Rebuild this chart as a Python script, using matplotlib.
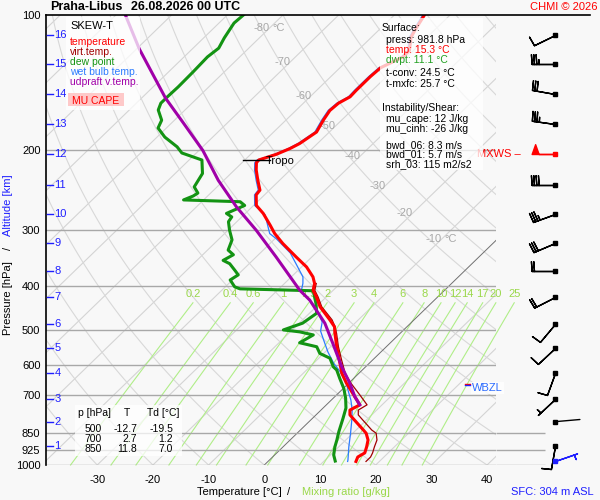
import numpy as np
import matplotlib
matplotlib.use('Agg')
import matplotlib.pyplot as plt
from matplotlib.patches import Rectangle
from matplotlib.lines import Line2D
from matplotlib.ticker import NullLocator, NullFormatter

plt.rcParams['font.family'] = ['Liberation Sans', 'DejaVu Sans']

# ---- data ----
station = 'Praha-Libus'
run_time = '26.08.2026 00 UTC'

# temperature [hPa], [degC]
t_p = [982, 960, 940, 911, 880, 850, 836, 795, 774, 755, 735, 699, 658, 625,
       584, 546, 510, 493, 476, 445, 423, 409, 395, 382, 363, 345, 322, 306,
       293, 276, 265, 251, 245, 233, 221, 213, 210, 204, 198, 193, 182, 171,
       163, 157, 152, 147, 137, 131, 124, 120, 112, 108, 100]
t_T = [15.8, 15.3, 15.8, 15.0, 14.0, 12.4, 11.3, 7.9, 6.1, 5.2, 6.0, 3.1, -0.4, -3.1,
       -6.0, -8.9, -11.7, -13.0, -15.1, -19.3, -21.8, -23.6, -24.6, -26.1, -29.1, -32.8, -37.7, -41.0,
       -43.4, -46.8, -49.5, -51.5, -51.7, -53.9, -56.1, -57.4, -57.5, -55.4, -54.0, -53.2, -52.3, -53.3,
       -53.9, -53.7, -52.8, -52.9, -52.9, -52.7, -50.7, -50.7, -52.9, -53.5, -54.6]

# virtual temperature (lower part, above it follows the temperature)
tv_p = [982, 960, 940, 911, 880, 850, 836, 795, 774, 755, 735, 699, 658, 625,
        584, 546, 510, 493, 476, 445, 423, 409, 395]
tv_T = [17.6, 17.6, 17.2, 16.4, 15.6, 14.2, 12.8, 9.4, 7.6, 6.7, 7.3, 4.2, 0.4, -2.5,
        -5.6, -8.6, -11.4, -12.9, -14.7, -19.0, -21.5, -23.3, -24.3]

# dew point
td_p = [980, 950, 911, 880, 843, 788, 747, 710, 676, 642, 615, 605, 579, 565,
        546, 535, 514, 506, 501, 484, 460, 437, 410, 406, 402, 388, 378, 369,
        357, 351, 341, 333, 316, 301, 288, 281, 276, 265, 260, 257.6, 252.5, 248.7,
        241, 225, 210, 202.6, 196.3, 186.8, 178.3, 171.3, 162.6, 157, 152, 144.5,
        133.9, 123.9, 118.5, 112.4, 104.2, 100]
td_T = [12.0, 10.6, 9.3, 8.4, 7.2, 5.5, 4.1, 2.2, 0.1, -2.5, -4.6, -5.8, -8.0, -10.7,
        -12.5, -16.3, -15.3, -18.3, -21.6, -19.4, -18.7, -20.7, -23.5, -37.0, -38.3, -40.4, -39.9, -41.4,
        -43.5, -45.3, -44.5, -46.3, -47.5, -49.7, -51.5, -51.8, -53.4, -51.6, -53.1, -63.6, -62.6, -62.3,
        -64.1, -65.1, -67.7, -72.6, -74.6, -78.6, -81.5, -82.3, -84.8, -85.6, -85.6, -85.5,
        -85.6, -85.8, -85.4, -86.3, -87.3, -87.1]

# wet bulb temperature
tw_p = [982, 975, 911, 850, 795, 755, 717, 681, 664, 620, 594, 561, 533, 504,
        481, 445, 423, 409, 395, 382, 357, 338, 314, 306, 278, 265, 251, 245,
        233, 221, 213, 210, 204, 198, 193, 182, 171, 163, 157, 152, 147, 137,
        131, 124, 120, 112, 108, 100]
tw_T = [14.3, 14.1, 11.8, 9.6, 7.4, 5.6, 3.5, 1.1, 0.0, -3.7, -6.4, -9.5, -12.0, -14.7,
        -16.1, -20.2, -23.6, -25.7, -26.7, -27.9, -31.6, -34.6, -39.8, -41.9, -46.2, -49.8, -51.8, -52.0,
        -54.2, -56.4, -57.7, -57.8, -55.7, -54.3, -53.5, -52.6, -53.6, -54.2, -54.0, -53.1, -53.2, -53.2,
        -53.0, -51.0, -51.0, -53.2, -53.8, -54.9]

# MU parcel (updraft virtual temperature)
par_p = [735, 705, 658, 605, 537, 484, 430, 409, 345, 301, 267, 233, 200, 174, 153, 119, 100]
par_T = [6.0, 3.6, 0.2, -4.3, -10.2, -15.4, -22.4, -26.0, -36.4, -44.9, -52.8, -61.0, -69.3,
         -77.8, -85.7, -99.5, -108.3]

# altitude scale [km] and the pressure where it sits
km_lab = list(range(1, 17))
km_p = [906.0, 801.2, 713.6, 624.4, 549.7, 486.0, 423.2, 370.5, 321.1, 276.8,
        238.6, 203.6, 174.6, 149.8, 128.5, 110.5]

# wind at every km: direction [deg], speed
wind_dir = [190, 85, 227, 200, 227, 220, 243, 270, 247, 250, 270, 270, 278, 280, 270, 244]
wind_spd = [10, 3, 5, 10, 10, 10, 20, 20, 30, 35, 40, 50, 35, 30, 35, 10]
sfc_p, sfc_dir, sfc_spd = 981.8, 71, 5
mxws_km = 12

tropo_p, tropo_T = 210, -57.5
wbzl_p = 664

p_ticks = [100, 200, 300, 400, 500, 600, 700, 850, 925, 1000]
t_ticks = [-30, -20, -10, 0, 10, 20, 30, 40]
mr_vals = [0.2, 0.4, 0.6, 1, 1.5, 2, 3, 4, 6, 8, 10, 12, 14, 17, 20, 25]
iso_lab_T = [-80, -70, -60, -50, -40, -30, -20, -10]
iso_lab_p = [106.7, 127.3, 151.0, 176.4, 205.5, 239.8, 275.5, 315.0]

sfc_lines = ['press: 981.8 hPa', 'temp: 15.3 °C', 'dwpt: 11.1 °C', 't-conv: 24.5 °C', 't-mxfc: 25.7 °C']
ins_lines = ['mu_cape: 12 J/kg', 'mu_cinh: -26 J/kg', 'bwd_06: 8.3 m/s', 'bwd_01: 5.7 m/s', 'srh_03: 115 m2/s2']

tbl_p = [500, 700, 850]
tbl_T = [-12.7, 2.7, 11.8]
tbl_Td = [-19.5, 1.2, 7.0]

# ---- helpers ----
SKEW = 36.2


def skx(T, p):
    return np.asarray(T, dtype=float) + SKEW * np.log(1000.0 / np.asarray(p, dtype=float))


W, H = 600, 500


def fx(x):
    return x / W


def fy(y):
    return 1 - y / H


BG = '#f8f8f8'
BLUE = '#1f1fff'
fig = plt.figure(figsize=(6, 5), dpi=100, facecolor=BG)
ax = fig.add_axes([fx(46), fy(465), 450 / W, 450 / H])
ax.set_facecolor(BG)
ax.set_yscale('log')
ax.set_ylim(1000, 100)
ax.set_xlim(-39.2, 41.6)

# background lines
pl = np.geomspace(1000, 100, 80)
for T in range(-130, 50, 10):
    if T == 0:
        ax.plot(skx(T, pl), pl, color='#707070', lw=0.7, zorder=1.2)
    else:
        ax.plot(skx(T, pl), pl, color='#d4d4d4', lw=0.8, zorder=1)
for th in range(-40, 200, 10):
    Tad = (th + 273.15) * (pl / 1000.0) ** 0.286 - 273.15
    ax.plot(skx(Tad, pl), pl, color='#d8d8d8', lw=0.8, zorder=1)

pm = np.geomspace(1000, 436, 25)
for w in mr_vals:
    e = w * pm / (622.0 + w)
    lg = np.log(e / 6.112)
    Tdw = 243.5 * lg / (17.67 - lg)
    ax.plot(skx(Tdw, pm), pm, color='#b0ee88', lw=0.8, zorder=1.1, clip_on=False)
    ax.text(skx(Tdw[-1], pm[-1]), 417, f'{w:g}', color='#9ad84a', fontsize=8,
            ha='center', va='center', zorder=1.5, clip_on=False)

for p in p_ticks[1:]:
    ax.axhline(p, color='#a8a8a8', lw=1, zorder=1.3)

for T, p in zip(iso_lab_T, iso_lab_p):
    ax.text(skx(T, p), p, f'{T}', color='#a8a8a8', fontsize=8, ha='right', va='center', zorder=1.5)
    if T in (-80, -10):
        ax.annotate('°C', xy=(skx(T, p), p), xytext=(2, 0), textcoords='offset points',
                    color='#a8a8a8', fontsize=8, ha='left', va='center', zorder=1.5)

# profiles
ax.plot(skx(tv_T, tv_p), tv_p, color='#a00000', lw=0.9, zorder=3)
ax.plot(skx(tw_T, tw_p), tw_p, color='#2b7bff', lw=0.9, zorder=3.1)
ax.plot(skx(td_T, td_p), td_p, color='#139313', lw=2.2, zorder=3.2)
ax.plot(skx(t_T, t_p), t_p, color='#ff0000', lw=2.2, zorder=3.3)
ax.plot(skx(par_T, par_p), par_p, color='#a000a8', lw=2.2, zorder=3.4)

# tropopause
xt = skx(tropo_T, tropo_p)
ax.plot([xt - 2.8, xt + 2.0], [tropo_p, tropo_p], color='black', lw=1, zorder=4)
ax.annotate('Tropo', xy=(xt, tropo_p), xytext=(5, -1), textcoords='offset points',
            fontsize=8, ha='left', va='center', zorder=4)

# wet bulb zero
tr = ax.get_yaxis_transform()
ax.plot([0.931, 0.944], [wbzl_p * 0.995] * 2, color='red', lw=1, transform=tr, zorder=4)
ax.plot([0.931, 0.944], [wbzl_p * 1.002] * 2, color=BLUE, lw=1, transform=tr, zorder=4)
ax.annotate('WBZL', xy=(0.946, wbzl_p), xycoords=tr, xytext=(0, -2), textcoords='offset points',
            color='#2b6bff', fontsize=8, ha='left', va='center', zorder=4,
            bbox=dict(boxstyle='square,pad=0.1', fc='white', ec='none', alpha=0.8))

# altitude ticks
for k, p in zip(km_lab, km_p):
    ax.plot([0.002, 0.015], [p, p], color=BLUE, lw=1, transform=tr, zorder=5)
    ax.text(0.019, p, str(k), transform=tr, color=BLUE, fontsize=8, ha='left', va='center', zorder=5)

# axes cosmetics
for s in ['top', 'right', 'bottom']:
    ax.spines[s].set_visible(False)
ax.spines['left'].set_linewidth(1.2)
ax.set_yticks(p_ticks)
ax.set_yticklabels([str(p) for p in p_ticks])
ax.yaxis.set_minor_locator(NullLocator())
ax.yaxis.set_minor_formatter(NullFormatter())
ax.set_xticks(t_ticks)
ax.set_xticklabels([str(t) for t in t_ticks])
ax.tick_params(axis='y', length=0, pad=4, labelsize=8)
ax.tick_params(axis='x', length=0, pad=7, labelsize=8)

# wind column
axb = fig.add_axes([fx(496), fy(465), 104 / W, 450 / H], sharey=ax)
axb.set_xlim(0, 104)
axb.axis('off')
axb.hlines([850, 925, 1000], 0, 49, color='#a8a8a8', lw=1)
xb = 59
BL = 5.8
bsz = dict(spacing=0.1, height=0.42, width=0.06)
fsz = dict(spacing=0.1, height=0.42, width=0.3)
wdr = np.radians(wind_dir)
u = -np.array(wind_spd) * np.sin(wdr)
v = -np.array(wind_spd) * np.cos(wdr)
kp = np.array(km_p)
for i in range(len(km_p)):
    if km_lab[i] == 2:
        continue
    c = 'red' if km_lab[i] == mxws_km else 'black'
    axb.barbs([xb], [kp[i]], [u[i]], [v[i]], length=BL, color=c, lw=1, clip_on=False,
              sizes=fsz if wind_spd[i] >= 50 else bsz)
    axb.plot(xb, kp[i], 's', ms=2.3, color=c, clip_on=False)
# light wind at 2 km: staff only
i2 = km_lab.index(2)
axb.annotate('', xy=(xb, kp[i2]),
             xytext=(18 * np.sin(wdr[i2]), 18 * np.cos(wdr[i2])), textcoords='offset points',
             arrowprops=dict(arrowstyle='-', lw=1, color='black', shrinkA=0, shrinkB=0))
axb.plot(xb, kp[i2], 's', ms=2.3, color='black', clip_on=False)
sr = np.radians(sfc_dir)
axb.barbs([xb], [sfc_p], [-sfc_spd * np.sin(sr)], [-sfc_spd * np.cos(sr)], length=BL,
          color=BLUE, lw=1, clip_on=False, sizes=bsz)
axb.plot(xb, sfc_p, 's', ms=2.3, color=BLUE, clip_on=False)
axb.text(25, km_p[km_lab.index(mxws_km)], 'MXWS \u2013', color='red', fontsize=8,
         ha='right', va='center', clip_on=False)

# ---- frame texts ----
fig.add_artist(Line2D([fx(46), fx(590)], [fy(15), fy(15)], color='black', lw=1.2))
fig.text(fx(50), fy(7.5), station, fontsize=9, fontweight='bold', ha='left', va='center')
fig.text(fx(131), fy(7.5), run_time, fontsize=9, fontweight='bold', ha='left', va='center')
fig.text(fx(597), fy(7.5), 'CHMI © 2026', fontsize=8, color='red', ha='right', va='center')

fig.text(fx(8), fy(335), 'Pressure [hPa]', rotation=90, fontsize=8, ha='center', va='bottom')
fig.text(fx(8), fy(250), '/', rotation=90, fontsize=8, ha='center', va='bottom')
fig.text(fx(8), fy(236), 'Altitude [km]', rotation=90, fontsize=8, color=BLUE, ha='center', va='bottom')

fig.text(fx(197), fy(492), 'Temperature [°C]', fontsize=8, ha='left', va='center')
fig.text(fx(289), fy(492), '/', fontsize=8, ha='center', va='center')
fig.text(fx(302), fy(492), 'Mixing ratio [g/kg]', fontsize=8, color='#9ad84a', ha='left', va='center')
fig.text(fx(511), fy(492), 'SFC: 304 m ASL', fontsize=8, color=BLUE, ha='left', va='center')

# legend box
fig.add_artist(Rectangle((fx(66), fy(110)), 74 / W, 93 / H, transform=fig.transFigure,
                         fc='white', ec='none', alpha=0.75, zorder=2))
leg = [('SKEW-T', 'black', 26), ('temperature', '#ff0000', 42.3), ('virt.temp.', '#a00000', 52.3),
       ('dew point', '#139313', 61.7), ('wet bulb temp.', '#2b7bff', 71.7),
       ('udpraft v.temp.', '#a000a8', 81.7)]
for s, c, yy in leg:
    fig.text(fx(70), fy(yy), s, color=c, fontsize=7.5 if yy > 30 else 8, ha='left', va='center')
fig.add_artist(Rectangle((fx(68), fy(106)), 56 / W, 12.7 / H, transform=fig.transFigure,
                         fc='#ffc4c4', ec='none', alpha=0.9, zorder=2.5))
fig.text(fx(96), fy(100.5), 'MU CAPE', color='red', fontsize=7.5, ha='center', va='center')

# surface / instability box
fig.add_artist(Rectangle((fx(380), fy(170)), 103 / W, 152 / H, transform=fig.transFigure,
                         fc='white', ec='none', alpha=0.75, zorder=2))
fig.text(fx(382), fy(27.7), 'Surface:', fontsize=7.5, ha='left', va='center')
sfc_col = ['black', 'red', '#22a022', 'black', 'black']
for s, c, yy in zip(sfc_lines, sfc_col, [40, 50, 60, 73.3, 84.3]):
    fig.text(fx(386), fy(yy), s, color=c, fontsize=7.5, ha='left', va='center')
fig.text(fx(382), fy(108.3), 'Instability/Shear:', fontsize=7.5, ha='left', va='center')
for s, yy in zip(ins_lines, [119.3, 129.3, 145, 154.3, 164.3]):
    fig.text(fx(386), fy(yy), s, fontsize=7.5, ha='left', va='center')

# level table
fig.add_artist(Rectangle((fx(75), fy(456)), 107 / W, 51 / H, transform=fig.transFigure,
                         fc='white', ec='none', alpha=0.75, zorder=2))
fig.text(fx(78), fy(413.3), 'p [hPa]', fontsize=7.5, ha='left', va='center')
fig.text(fx(127), fy(413.3), 'T', fontsize=7.5, ha='center', va='center')
fig.text(fx(147), fy(413.3), 'Td [°C]', fontsize=7.5, ha='left', va='center')
for p, T, Td, yy in zip(tbl_p, tbl_T, tbl_Td, [429, 439, 449]):
    fig.text(fx(102), fy(yy), f'{p}', fontsize=7.5, ha='right', va='center')
    fig.text(fx(137), fy(yy), f'{T:.1f}', fontsize=7.5, ha='right', va='center')
    fig.text(fx(173), fy(yy), f'{Td:.1f}', fontsize=7.5, ha='right', va='center')

fig.savefig('out.png', dpi=100, facecolor=BG)
